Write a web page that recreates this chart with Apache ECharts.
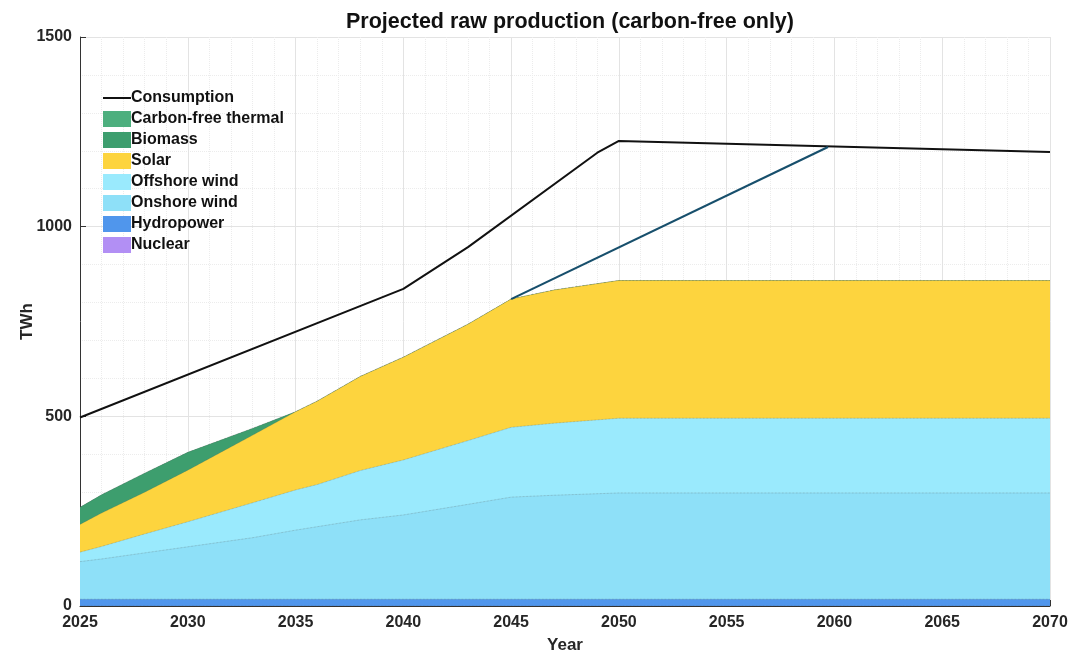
<!DOCTYPE html>
<html><head><meta charset="utf-8">
<script src="https://cdn.jsdelivr.net/npm/echarts@6/dist/echarts.min.js"></script>
<style>html,body{margin:0;padding:0;background:#fff}#c{width:1090px;height:653px}</style>
</head><body><div id="c"></div>
<script>
const years     = [2025,2026,2028,2030,2033,2035,2036,2038,2040,2043,2045,2047,2050,2055,2060,2065,2070];
const nuclear   = [0,0,0,0,0,0,0,0,0,0,0,0,0,0,0,0,0];
const hydro     = [18,18,18,18,18,18,18,18,18,18,18,18,18,18,18,18,18];
const onshore   = [99,106,122,138,162,182,191,209,222,250,269,274,280,280,280,280,280];
const offshore  = [25,33,50,66,92,106,111,130,145,168,184,190,197,197,197,197,197];
const solar     = [73,88,110,136,178,206,220,248,271,307,338,351,363,363,363,363,363];
const biomass   = [45,48,50,47,18,0,0,0,0,0,0,0,0,0,0,0,0];
const thermal   = [0,0,0,0,0,0,0,0,0,0,0,0,0,0,0,0,0];
const consYears = [2025,2040,2043,2049,2050,2070];
const consumption = [497,836,946,1195,1226,1197];
const targetYears = [2045,2059.7];
const target = [809,1210];

const FONT = 'Liberation Sans, Arial, sans-serif';
const pairs = (xs, ys) => xs.map((x,i)=>[x, ys[i]]);
// stacking order bottom -> top
const layers = [
  ['Nuclear', nuclear, '#b28ff4'],
  ['Hydropower', hydro, '#5096ec'],
  ['Onshore wind', onshore, '#8ee0f8'],
  ['Offshore wind', offshore, '#9aeafd'],
  ['Solar', solar, '#fdd43e'],
  ['Biomass', biomass, '#3d9e6e'],
  ['Carbon-free thermal', thermal, '#4daf7e']
];
let run = years.map(()=>0);
const areaSeries = layers.map(([name, vals, color], k) => {
  run = run.map((v,i)=>v+vals[i]);
  return {
    name, type:'line', data: pairs(years, run.slice()), symbol:'none',
    lineStyle:{width:0.7, color:'rgba(80,80,80,0.5)', type:'dotted'},
    itemStyle:{color}, areaStyle:{color, opacity:1, origin:'start'},
    z: 2 + (layers.length - k) * 0.01, emphasis:{disabled:true}
  };
}).reverse();
const chart = echarts.init(document.getElementById('c'));
const axisFont = {fontFamily:FONT, fontSize:16, fontWeight:'bold', color:'#262626'};
chart.setOption({
  animation:false,
  title:{text:'Projected raw production (carbon-free only)', left:565, textAlign:'center', top:6,
    textStyle:{fontFamily:FONT, fontSize:21.5, fontWeight:'bold', color:'#111'}},
  grid:{left:80, right:40, top:37, bottom:47, containLabel:false, outerBoundsMode:'none'},
  legend:{orient:'vertical', left:98, top:85, itemWidth:28, itemHeight:16, itemGap:5,
    textStyle:{fontFamily:FONT, fontSize:16, fontWeight:'bold', color:'#111', padding:[0,0,0,-5]},
    data:[{name:'Consumption', icon:'path://M0,7L28,7L28,9L0,9Z'},{name:'Carbon-free thermal',icon:'rect'},{name:'Biomass',icon:'rect'},{name:'Solar',icon:'rect'},
      {name:'Offshore wind',icon:'rect'},{name:'Onshore wind',icon:'rect'},{name:'Hydropower',icon:'rect'},{name:'Nuclear',icon:'rect'}]},
  xAxis:{type:'value', min:2025, max:2070, interval:5, name:'Year', nameLocation:'middle', nameGap:31, nameMoveOverlap:false,
    nameTextStyle:Object.assign({}, axisFont, {fontSize:17}),
    axisLine:{onZero:false, lineStyle:{color:'#333', width:1}}, axisTick:{inside:true, length:6, lineStyle:{color:'#333'}},
    axisLabel:Object.assign({}, axisFont, {margin:9, formatter:v=>String(v)}),
    splitLine:{show:true, lineStyle:{color:'#e3e3e3', width:1}},
    minorTick:{show:true, splitNumber:5, length:0},
    minorSplitLine:{show:true, lineStyle:{color:'#ececec', type:'dotted', width:1}}},
  yAxis:{type:'value', min:0, max:1500, interval:500, name:'TWh', nameLocation:'middle', nameGap:44, nameRotate:90, nameMoveOverlap:false,
    nameTextStyle:Object.assign({}, axisFont, {fontSize:17}),
    axisLine:{show:true, lineStyle:{color:'#333', width:1}}, axisTick:{show:true, inside:true, length:6, lineStyle:{color:'#333'}},
    axisLabel:Object.assign({}, axisFont, {margin:8, formatter:v=>String(v)}),
    splitLine:{show:true, lineStyle:{color:'#e3e3e3', width:1}},
    minorTick:{show:true, splitNumber:5, length:0},
    minorSplitLine:{show:true, lineStyle:{color:'#ececec', type:'dotted', width:1}}},
  series: areaSeries.concat([
    {name:'Consumption', type:'line', data:pairs(consYears, consumption), symbol:'none',
      lineStyle:{color:'#111', width:2}, itemStyle:{color:'#111'}, z:5, emphasis:{disabled:true}},
    {name:'Target', type:'line', data:pairs(targetYears, target), symbol:'none',
      lineStyle:{color:'#174f6c', width:2.2}, itemStyle:{color:'#174f6c'}, z:5, emphasis:{disabled:true}}
  ])
});
</script></body></html>
